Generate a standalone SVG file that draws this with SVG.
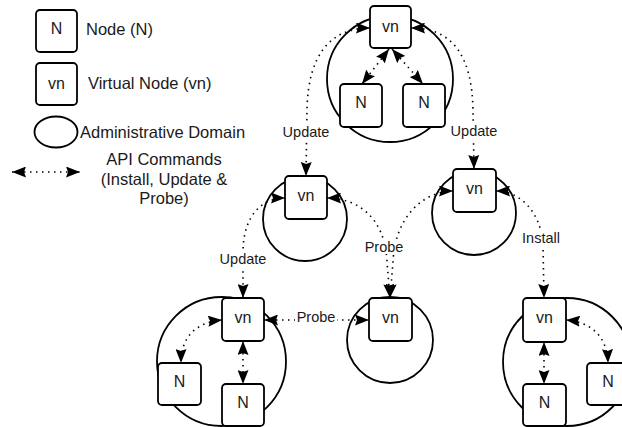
<svg xmlns="http://www.w3.org/2000/svg" width="622" height="427" viewBox="0 0 622 427">
<style>
.box{fill:#fff;stroke:#000;stroke-width:1.8}
.dom{fill:none;stroke:#000;stroke-width:1.8}
.conn{fill:none;stroke:#000;stroke-width:1.6;stroke-dasharray:1.5 4.5;marker-start:url(#ah);marker-end:url(#ah)}
.t{font-family:"Liberation Sans",Arial,sans-serif;fill:#1a1a1a}
.nt{font-size:16px;text-anchor:middle}
.lg{font-size:16.5px}
.el{font-size:14.5px;text-anchor:middle}
.bg{fill:#fff}
</style>
<defs>
<marker id="ah" markerUnits="userSpaceOnUse" markerWidth="14" markerHeight="11" refX="14" refY="5.5" orient="auto-start-reverse" viewBox="0 0 14 11">
<path d="M0,0 L14,5.5 L0,11 L2,5.5 z" fill="#000"/>
</marker>
</defs>

<!-- Legend -->
<g id="legend">
<rect class="box" x="36" y="10" width="41" height="42" rx="4"/>
<text class="t nt" x="56.5" y="34">N</text>
<text class="t lg" x="86" y="35">Node (N)</text>
<rect class="box" x="36" y="63" width="41" height="42" rx="4"/>
<text class="t nt" x="56.5" y="89">vn</text>
<text class="t lg" x="88" y="89">Virtual Node (vn)</text>
<ellipse class="dom" cx="56" cy="132" rx="21.5" ry="15.5"/>
<text class="t lg" x="80" y="138">Administrative Domain</text>
<path class="conn" d="M12 172 L80 172"/>
<text class="t lg" x="164" y="165" text-anchor="middle">API Commands</text>
<text class="t lg" x="164" y="185" text-anchor="middle">(Install, Update &amp;</text>
<text class="t lg" x="164" y="204" text-anchor="middle">Probe)</text>
</g>

<!-- Domains -->
<g id="domains">
<circle class="dom" cx="390" cy="79" r="63"/>
<circle class="dom" cx="305" cy="219" r="42"/>
<circle class="dom" cx="474" cy="213" r="42"/>
<circle class="dom" cx="221.5" cy="361.5" r="64.5"/>
<circle class="dom" cx="390" cy="340" r="43"/>
<circle class="dom" cx="567" cy="362" r="64"/>
</g>

<!-- Connectors -->
<g id="connectors">
<path class="conn" d="M370 28 C330 28 308 55 307 110 L306 176"/>
<path class="conn" d="M411 28 C452 28 472 55 473 110 L474 169"/>
<path class="conn" d="M389 49 L362 84"/>
<path class="conn" d="M392 49 L423 84"/>
<path class="conn" d="M285 198 C262 198 244 215 243 250 L243 298"/>
<path class="conn" d="M327 198 C355 198 385 215 387 262 L390 298"/>
<path class="conn" d="M453 191 C425 191 395 215 393 262 L390 298"/>
<path class="conn" d="M496 191 C520 191 541 212 543 245 L544 298"/>
<path class="conn" d="M264 320 L369 320"/>
<path class="conn" d="M222 320 C198 322 181 335 181 363"/>
<path class="conn" d="M243 341 L243 384"/>
<path class="conn" d="M544 342 L544 384"/>
<path class="conn" d="M566 320 C590 322 607 335 608 363"/>
<rect class="bg" x="281" y="124" width="50" height="17"/>
<text class="t el" x="306" y="137">Update</text>
<rect class="bg" x="449" y="122" width="50" height="17"/>
<text class="t el" x="474" y="136">Update</text>
<rect class="bg" x="218" y="250" width="50" height="17"/>
<text class="t el" x="243" y="264">Update</text>
<rect class="bg" x="363" y="239" width="42" height="15"/>
<text class="t el" x="384" y="252">Probe</text>
<rect class="bg" x="521" y="230" width="41" height="16"/>
<text class="t el" x="541" y="243">Install</text>
<rect class="bg" x="295" y="309" width="42" height="16"/>
<text class="t el" x="316" y="322">Probe</text>
</g>

<!-- Nodes -->
<g id="top-vn"><rect class="box" x="370" y="6" width="41" height="42" rx="4"/><text class="t nt" x="390.5" y="32">vn</text></g>
<g id="top-n1"><rect class="box" x="340" y="84" width="42" height="43" rx="4"/><text class="t nt" x="361" y="108">N</text></g>
<g id="top-n2"><rect class="box" x="403" y="84" width="42" height="43" rx="4"/><text class="t nt" x="424" y="108">N</text></g>
<g id="mid-left-vn"><rect class="box" x="285" y="176" width="42" height="43" rx="4"/><text class="t nt" x="306" y="201">vn</text></g>
<g id="mid-right-vn"><rect class="box" x="453" y="169" width="43" height="43" rx="4"/><text class="t nt" x="474.5" y="194">vn</text></g>
<g id="bl-vn"><rect class="box" x="222" y="298" width="42" height="43" rx="4"/><text class="t nt" x="243" y="323">vn</text></g>
<g id="bl-n1"><rect class="box" x="158" y="363" width="43" height="42" rx="4"/><text class="t nt" x="179.5" y="387">N</text></g>
<g id="bl-n2"><rect class="box" x="222" y="384" width="42" height="42" rx="4"/><text class="t nt" x="243" y="408">N</text></g>
<g id="bm-vn"><rect class="box" x="369" y="298" width="43" height="43" rx="4"/><text class="t nt" x="390.5" y="323">vn</text></g>
<g id="br-vn"><rect class="box" x="523" y="298" width="43" height="44" rx="4"/><text class="t nt" x="544.5" y="323">vn</text></g>
<g id="br-n1"><rect class="box" x="523" y="384" width="43" height="42" rx="4"/><text class="t nt" x="544.5" y="408">N</text></g>
<g id="br-n2"><rect class="box" x="587" y="363" width="42" height="42" rx="4"/><text class="t nt" x="608" y="387">N</text></g>
</svg>
